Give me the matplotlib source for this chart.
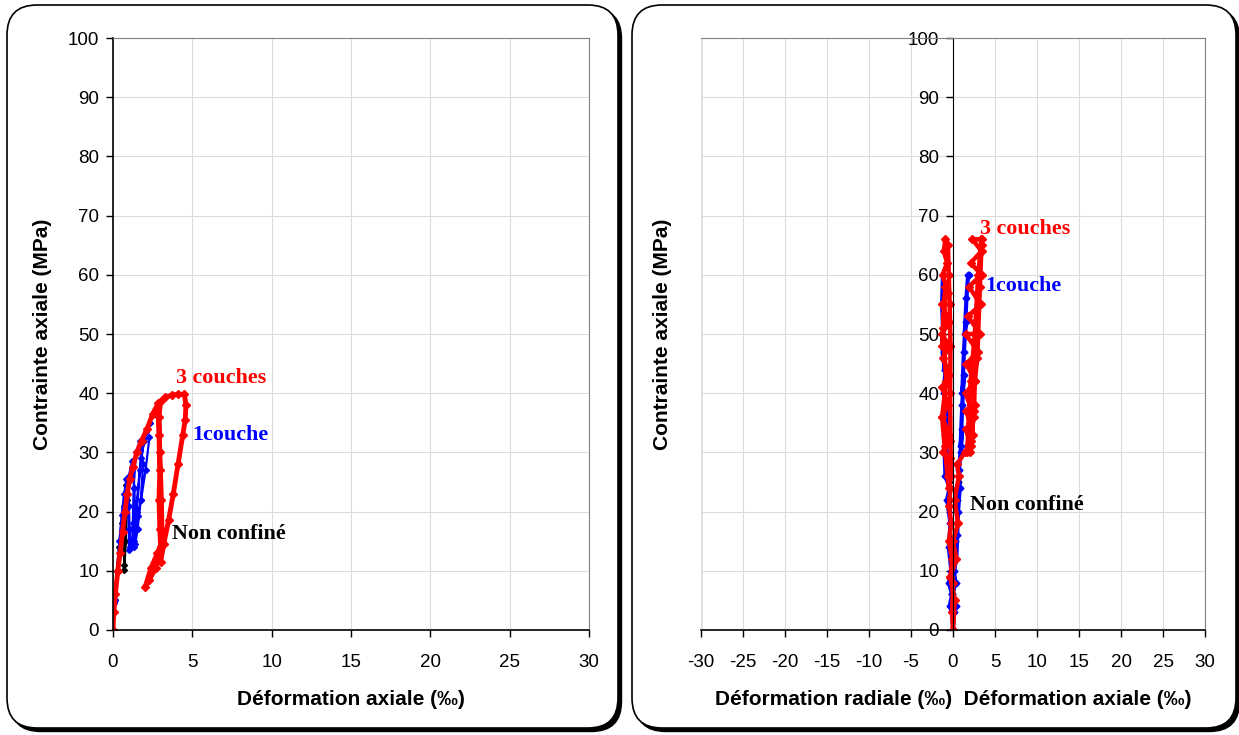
import matplotlib
matplotlib.use("Agg")
import matplotlib.pyplot as plt
from matplotlib.patches import FancyBboxPatch
from matplotlib.lines import Line2D

# --- left chart: axial strain (permil) vs axial stress (MPa) ---
nc_x = [0, 0.1, 0.25, 0.4, 0.55, 0.7, 0.85, 0.8, 0.75, 0.72, 0.7, 0.78, 0.88, 0.95]
nc_y = [0, 5, 10, 14, 18, 21, 24.5, 20, 15, 11, 10.2, 15, 22, 25]

c1_x = [0, 0.05, 0.15, 0.25, 0.4, 0.55, 0.7, 0.85, 1.0, 1.05, 1.1, 1.0, 1.0, 0.95, 1.0,
        1.2, 1.35, 1.4, 1.35, 1.2, 1.25, 1.3, 1.45, 1.7, 1.9, 1.75, 1.55, 1.4, 1.5, 1.7,
        1.95, 2.3, 2.05, 1.77, 1.56, 1.35, 1.45, 1.75, 2.1, 2.35]
c1_y = [0, 4.5, 5, 10, 15, 19.5, 23, 25.5, 21, 17, 14, 13.5, 17, 21, 26,
        28.5, 24, 19, 15, 14, 18, 24, 30, 32, 28, 22, 17, 14.5, 20, 27,
        32, 32.6, 27, 22, 19.2, 14.1, 20, 29, 33.5, 35]

c3_x = [0, 0.05, 0.15, 0.3, 0.45, 0.6, 0.75, 0.9, 1.05, 1.25, 1.5, 1.8, 2.15, 2.5,
        2.85, 2.9, 2.95, 2.9, 2.95, 3.0, 2.7, 2.3, 2.03, 2.4, 2.8, 3.1, 3.05, 2.95,
        2.9, 3.0, 3.3, 3.7, 4.1, 4.5, 4.6, 4.55, 4.4, 4.1, 3.8, 3.5, 3.2, 3.0]
c3_y = [0, 3, 6, 10, 13, 16.5, 20, 23, 25.5, 27.5, 30, 32, 34, 36.5,
        38.3, 33, 27, 22, 17, 14, 10.5, 8.5, 7.3, 10.5, 13, 15, 22, 30,
        36, 38.6, 39.3, 39.7, 39.8, 39.8, 38, 35.5, 33, 28, 23, 18.5, 14.5, 11.5]

# --- right chart: radial (negative) and axial strain vs axial stress ---
nc_rad_x = [0, -0.1, -0.2, -0.3, -0.35]
nc_rad_y = [0, 8, 15, 22, 25]
nc_ax_x = [0, 0.2, 0.4, 0.6, 0.7]
nc_ax_y = [0, 8, 15, 22, 25]

c1_rad_x = [0, -0.1, -0.4, -0.1, -0.5, -0.2, -0.5, -0.3, -0.7, -0.4, -0.9, -1.0, -0.5,
            -1.0, -0.6, -1.1, -0.9, -1.2, -1.3, -1.1, -1.0, -1.3, -1.2]
c1_rad_y = [0, 3, 4, 6, 8, 10, 14, 18, 22, 24, 26, 30, 27,
            33, 36, 40, 44, 46, 50, 47, 44, 55, 60]
c1_ax_x = [0, 0.1, 0.3, -0.1, 0.3, 0.1, 0.4, 0.5, 0.6, 0.8, 0.7, 0.9, 1.1, 0.9, 1.1,
           1.3, 1.1, 1.3, 1.5, 1.4, 1.6, 1.8, 1.9]
c1_ax_y = [0, 3, 4, 6, 8, 10, 12, 16, 20, 24, 27, 30, 34, 31, 38,
           43, 40, 47, 52, 50, 56, 60, 60]

c3_rad_x = [0, -0.1, 0, -0.3, -0.1, -0.5, -0.2, -0.5, -0.3, -0.6, -0.4, -1.2, -0.5,
            -1.3, -0.6, -1.3, -0.5, -1.2, -0.4, -1.35, -0.5, -1.3, -0.6, -1.25, -0.7,
            -1.1, -0.9, -0.6, -0.5, -0.4, -0.3, -0.35, -0.3, -0.25, -0.5, -1.0, -1.3,
            -0.8, -1.2, -0.9, -1.3]
c3_rad_y = [0, 3, 8, 9, 12, 15, 18, 21, 24, 26, 29, 30, 33,
            36, 38, 41, 43, 46, 48, 50, 52, 55, 57, 60, 62,
            64, 66, 65, 60, 55, 48, 40, 32, 26, 24, 31, 36,
            42, 51, 58, 48]
c3_ax_x = [0, 0.2, -0.3, 0.4, 0.0, 0.6, 0.2, 0.7, 0.5, 1.4, 2.2, 1.5, 2.4, 1.6, 2.5,
           1.5, 2.6, 1.6, 3.0, 1.5, 3.2, 1.8, 3.3, 1.9, 3.4, 2.1, 3.4, 2.3, 3.3, 3.4,
           3.2, 3.0, 2.9, 2.6, 2.5, 2.2, 2.0, 2.4, 2.6, 2.0, 1.7, 2.1, 2.6, 3.0, 3.4]
c3_ax_y = [0, 5, 9, 12, 15, 18, 22, 26, 28, 30, 31, 34, 33, 37, 36,
           40, 42, 45, 47, 50, 50, 53, 55, 58, 60, 62, 64, 66, 66, 65,
           58, 50, 46, 42, 37, 32, 30, 36, 38, 35, 30, 42, 50, 60, 66]

RED = "#ff0000"
BLUE = "#0000ff"
plt.rcParams["font.family"] = ["Liberation Sans", "DejaVu Sans"]
plt.rcParams["axes.unicode_minus"] = False

fig = plt.figure(figsize=(12.39, 7.35), dpi=100)

# rounded panel frames with shadow
for x0, w in [(0.07, 6.11), (6.32, 6.04)]:
    sh = FancyBboxPatch((x0 + 0.035, 0.07 - 0.035), w, 7.23,
                        boxstyle="round,pad=0,rounding_size=0.3",
                        transform=fig.dpi_scale_trans, facecolor="black",
                        edgecolor="black", zorder=-2)
    bx = FancyBboxPatch((x0, 0.07), w, 7.23,
                        boxstyle="round,pad=0,rounding_size=0.3",
                        transform=fig.dpi_scale_trans, facecolor="white",
                        edgecolor="black", linewidth=1.2, zorder=-1)
    fig.patches.extend([sh, bx])

ax1 = fig.add_axes([113 / 1239, 105 / 735, 476 / 1239, 592 / 735])
ax2 = fig.add_axes([701 / 1239, 105 / 735, 504 / 1239, 592 / 735])

def style(ax):
    ax.set_ylim(0, 100)
    ax.set_yticks(range(0, 101, 10))
    ax.grid(True, color="#dcdcdc", linewidth=0.8)
    ax.set_axisbelow(True)
    ax.tick_params(labelsize=13.5, length=5, width=1, colors="black", direction="out")
    ax.tick_params(axis="x", pad=12)
    ax.tick_params(axis="y", pad=5)
    for s in ["top", "right"]:
        ax.spines[s].set_color("#808080")
    ax.spines["bottom"].set_color("black")
    ax.spines["bottom"].set_linewidth(1.2)

lab = dict(fontsize=15.8, fontweight="bold", family=["Liberation Serif"], va="center")

# left chart
style(ax1)
ax1.set_xlim(0, 30)
ax1.set_xticks(range(0, 31, 5))
ax1.spines["left"].set_color("black")
ax1.spines["left"].set_linewidth(1.2)
ax1.plot(nc_x, nc_y, color="black", linewidth=2.0, marker="D", markersize=3)
ax1.plot(c1_x, c1_y, color=BLUE, linewidth=1.6, marker="D", markersize=3)
ax1.plot(c3_x, c3_y, color=RED, linewidth=3.5, marker="D", markersize=4)
ax1.set_xlabel("Déformation axiale (‰)", fontsize=15, fontweight="bold", labelpad=14)
ax1.set_ylabel("Contrainte axiale (MPa)", fontsize=15, fontweight="bold", labelpad=11)
ax1.text(4.0, 42.5, "3 couches", color=RED, **lab)
ax1.text(5.0, 33.0, "1couche", color=BLUE, **lab)
ax1.text(3.7, 16.2, "Non confiné", color="black", **lab)

# right chart
style(ax2)
ax2.set_xlim(-30, 30)
ax2.set_xticks(range(-30, 31, 5))
ax2.spines["left"].set_position(("data", 0))
ax2.spines["left"].set_color("black")
ax2.add_line(Line2D([0, 0], [0, 1], transform=ax2.transAxes, color="#808080",
                    linewidth=1.0, zorder=0.5))
for xr, yr, xa, ya, c, lw, ms in [
        (nc_rad_x, nc_rad_y, nc_ax_x, nc_ax_y, "black", 1.5, 2.5),
        (c1_rad_x, c1_rad_y, c1_ax_x, c1_ax_y, BLUE, 3.0, 3.5),
        (c3_rad_x, c3_rad_y, c3_ax_x, c3_ax_y, RED, 3.2, 4.0)]:
    ax2.plot(xr, yr, color=c, linewidth=lw, marker="D", markersize=ms)
    ax2.plot(xa, ya, color=c, linewidth=lw, marker="D", markersize=ms)
ax2.set_xlabel("Déformation radiale (‰)  Déformation axiale (‰)", fontsize=15,
               fontweight="bold", labelpad=14)
ax2.set_ylabel("Contrainte axiale (MPa)", fontsize=15, fontweight="bold")
ax2.yaxis.set_label_coords(-0.058, 0.5)
ax2.text(3.2, 67.8, "3 couches", color=RED, **lab)
ax2.text(3.8, 58.1, "1couche", color=BLUE, **lab)
ax2.text(2.0, 21.1, "Non confiné", color="black", **lab)

fig.savefig("out.png", dpi=100)
